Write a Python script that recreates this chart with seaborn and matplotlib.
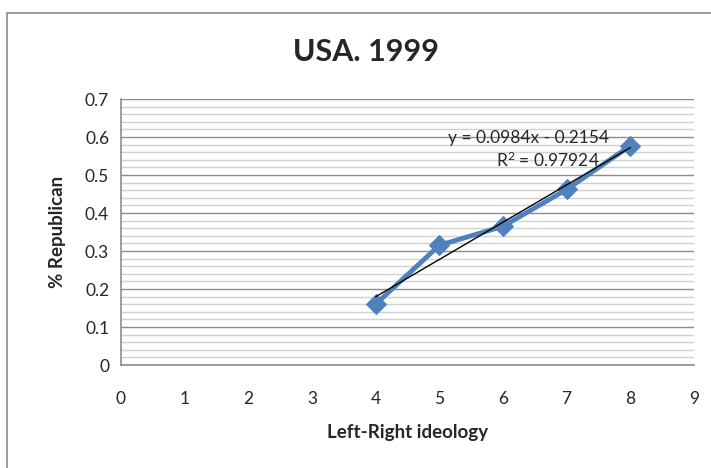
import numpy as np
import pandas as pd
import seaborn as sns
import matplotlib.pyplot as plt
from matplotlib.patches import Rectangle
from matplotlib.ticker import MultipleLocator, FuncFormatter

# data
ideology = [4, 5, 6, 7, 8]
pct_republican = [0.16, 0.315, 0.365, 0.462, 0.577]
eq_text = "y = 0.0984x - 0.2154"
r2_text = "R$^2$ = 0.97924"

df = pd.DataFrame({"ideology": ideology, "pct": pct_republican})

sns.set_style("white")
plt.rcParams["font.family"] = ["Lato", "DejaVu Sans"]
plt.rcParams["mathtext.default"] = "regular"

fig = plt.figure(figsize=(7.11, 4.68), dpi=100)
ax = fig.add_axes([121 / 711, 1 - 365 / 468, (694 - 121) / 711, (365 - 99) / 468])

# outer chart border
fig.patches.append(Rectangle((7 / 711, -0.1), 1.2, 1 - 13 / 468 + 0.1, transform=fig.transFigure,
                             fill=False, edgecolor="#8c8c8c", linewidth=1.2))

sns.lineplot(data=df, x="ideology", y="pct", ax=ax, color="#4F81BD", linewidth=3.5,
             marker="D", markersize=10, markeredgecolor="#4F81BD", zorder=3)

# linear trendline
slope, intercept = np.polyfit(ideology, pct_republican, 1)
xs = np.array([min(ideology), max(ideology)])
ax.plot(xs, slope * xs + intercept, color="black", linewidth=1, zorder=4)
ax.text(6.4, 0.597, eq_text, ha="center", va="center", fontsize=12.5)
ax.text(6.7, 0.539, r2_text, ha="center", va="center", fontsize=12.5)

ax.set_xlim(0, 9)
ax.set_ylim(0, 0.7)
ax.xaxis.set_major_locator(MultipleLocator(1))
ax.yaxis.set_major_locator(MultipleLocator(0.1))
ax.yaxis.set_minor_locator(MultipleLocator(0.02))
ax.yaxis.set_major_formatter(FuncFormatter(lambda v, p: f"{round(v, 1):g}"))
ax.grid(axis="y", which="major", color="#8c8c8c", linewidth=1)
ax.grid(axis="y", which="minor", color="#d0d0d0", linewidth=1)
ax.set_axisbelow(True)

for s in ["top", "right"]:
    ax.spines[s].set_visible(False)
for s in ["left", "bottom"]:
    ax.spines[s].set_color("#8c8c8c")
    ax.spines[s].set_linewidth(1.2)
ax.tick_params(axis="both", which="major", length=5, color="#8c8c8c", width=1.2, labelsize=12.5)
ax.tick_params(axis="y", which="minor", length=0)
ax.tick_params(axis="x", pad=14)

ax.set_xlabel("Left-Right ideology", fontsize=13.5, fontweight="bold", labelpad=12)
ax.set_ylabel("% Republican", fontsize=13.5, fontweight="bold", labelpad=14)
fig.text(366 / 711, 1 - 52 / 468, "USA. 1999", ha="center", va="center", fontsize=22, fontweight="bold")

fig.savefig("out.png", dpi=100)
